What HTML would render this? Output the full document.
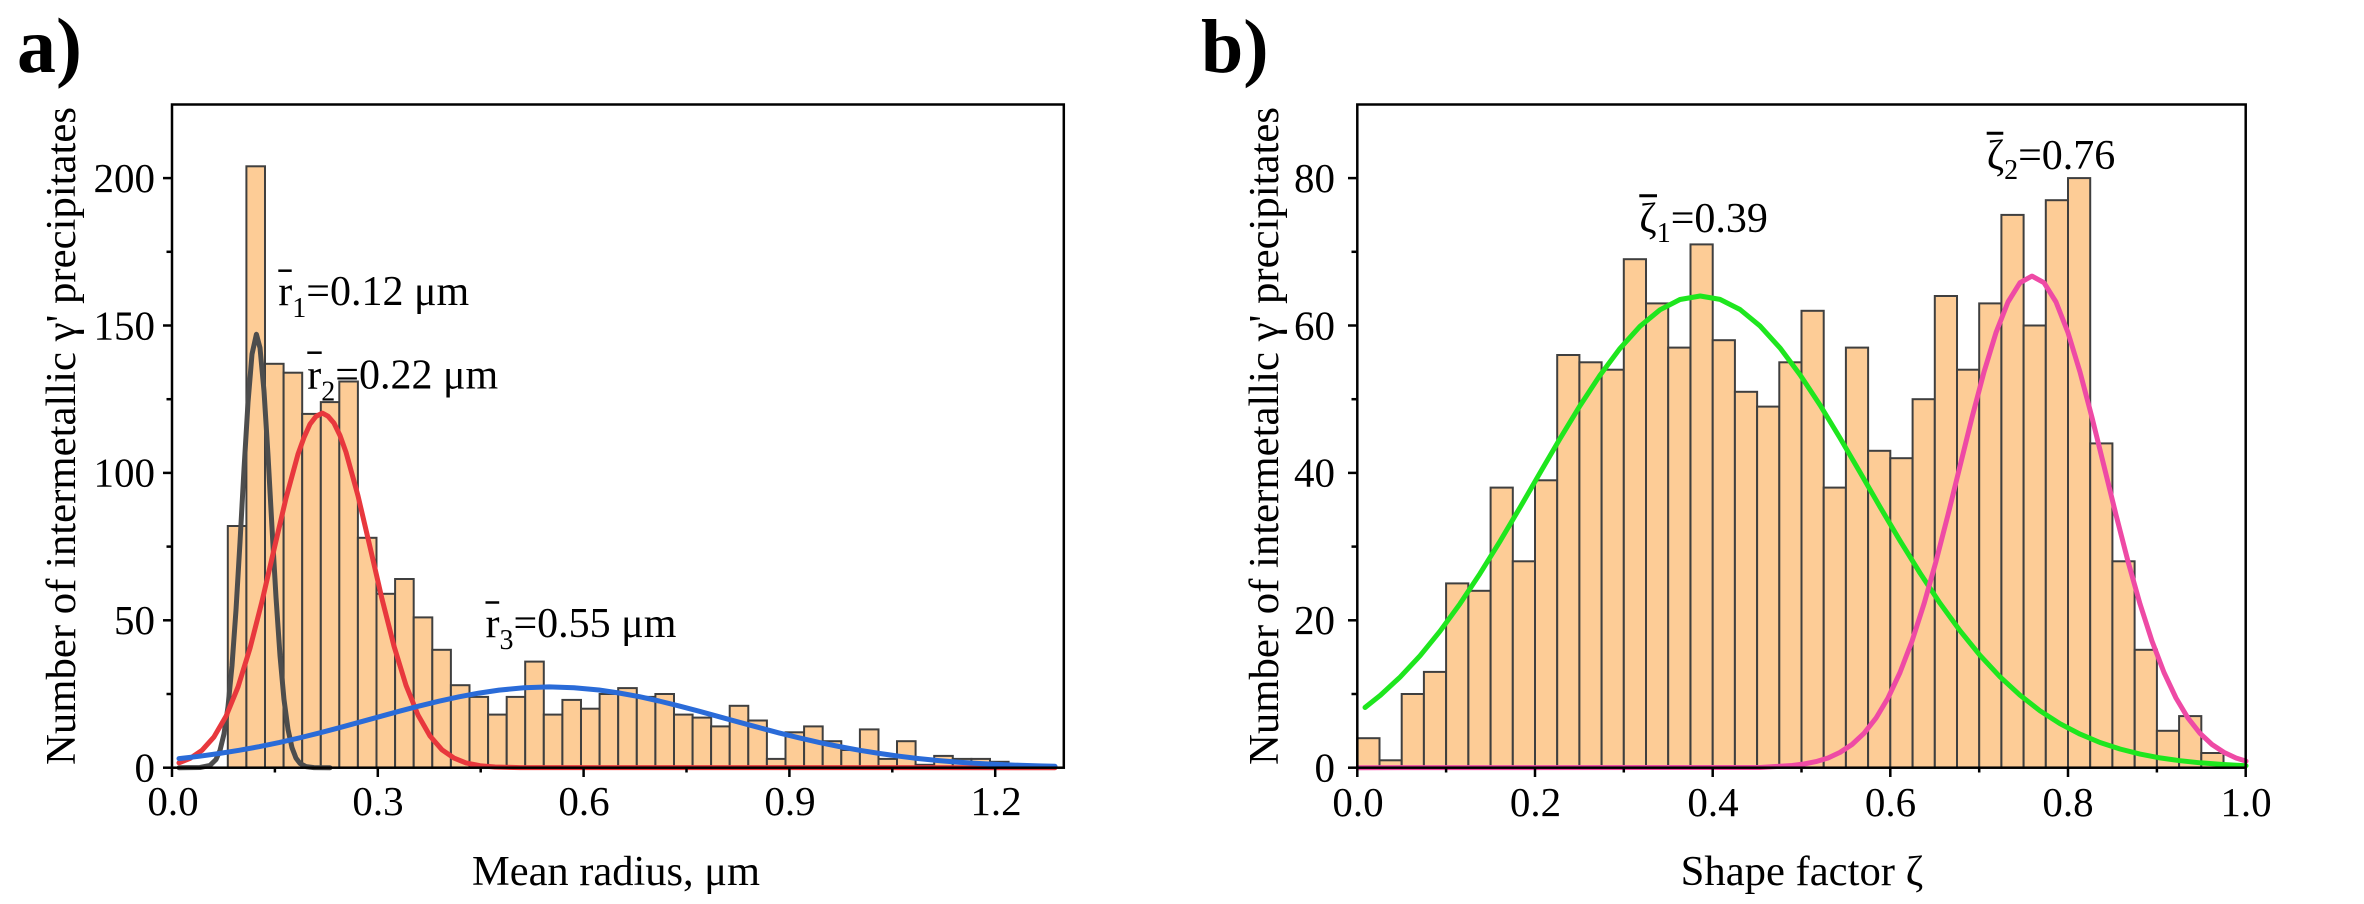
<!DOCTYPE html>
<html>
<head>
<meta charset="utf-8">
<style>
  html, body { margin: 0; padding: 0; background: #ffffff; }
  svg { display: block; }
  text { font-family: "Liberation Serif", "DejaVu Serif", serif; fill: #000; }
</style>
</head>
<body>
<svg width="2364" height="904" viewBox="0 0 2364 904" xmlns="http://www.w3.org/2000/svg">
  <rect x="0" y="0" width="2364" height="904" fill="#ffffff"/>

  <text x="17" y="72" font-size="78" font-weight="bold">a)</text>
  <text x="1201" y="72" font-size="76" font-weight="bold">b)</text>

  <!-- LEFT PANEL BARS -->
  <g fill="#FDCC96" stroke="#3f3f3f" stroke-width="2">
    <rect x="227.8" y="526.0" width="18.59" height="241.7"/>
    <rect x="246.4" y="166.3" width="18.59" height="601.4"/>
    <rect x="265.0" y="363.8" width="18.59" height="403.9"/>
    <rect x="283.6" y="372.7" width="18.59" height="395.0"/>
    <rect x="302.2" y="413.9" width="18.59" height="353.8"/>
    <rect x="320.8" y="402.1" width="18.59" height="365.6"/>
    <rect x="339.3" y="381.5" width="18.59" height="386.2"/>
    <rect x="357.9" y="537.8" width="18.59" height="229.9"/>
    <rect x="376.5" y="593.8" width="18.59" height="173.9"/>
    <rect x="395.1" y="579.0" width="18.59" height="188.7"/>
    <rect x="413.7" y="617.4" width="18.59" height="150.3"/>
    <rect x="432.3" y="649.8" width="18.59" height="117.9"/>
    <rect x="450.9" y="685.2" width="18.59" height="82.5"/>
    <rect x="469.5" y="696.9" width="18.59" height="70.8"/>
    <rect x="488.1" y="714.6" width="18.59" height="53.1"/>
    <rect x="506.7" y="696.9" width="18.59" height="70.8"/>
    <rect x="525.2" y="661.6" width="18.59" height="106.1"/>
    <rect x="543.8" y="714.6" width="18.59" height="53.1"/>
    <rect x="562.4" y="699.9" width="18.59" height="67.8"/>
    <rect x="581.0" y="708.7" width="18.59" height="59.0"/>
    <rect x="599.6" y="694.0" width="18.59" height="73.7"/>
    <rect x="618.2" y="688.1" width="18.59" height="79.6"/>
    <rect x="636.8" y="696.9" width="18.59" height="70.8"/>
    <rect x="655.4" y="694.0" width="18.59" height="73.7"/>
    <rect x="674.0" y="714.6" width="18.59" height="53.1"/>
    <rect x="692.6" y="717.6" width="18.59" height="50.1"/>
    <rect x="711.1" y="726.4" width="18.59" height="41.3"/>
    <rect x="729.7" y="705.8" width="18.59" height="61.9"/>
    <rect x="748.3" y="720.5" width="18.59" height="47.2"/>
    <rect x="766.9" y="758.9" width="18.59" height="8.8"/>
    <rect x="785.5" y="732.3" width="18.59" height="35.4"/>
    <rect x="804.1" y="726.4" width="18.59" height="41.3"/>
    <rect x="822.7" y="741.2" width="18.59" height="26.5"/>
    <rect x="841.3" y="750.0" width="18.59" height="17.7"/>
    <rect x="859.9" y="729.4" width="18.59" height="38.3"/>
    <rect x="878.5" y="758.9" width="18.59" height="8.8"/>
    <rect x="897.0" y="741.2" width="18.59" height="26.5"/>
    <rect x="915.6" y="764.8" width="18.59" height="2.9"/>
    <rect x="934.2" y="755.9" width="18.59" height="11.8"/>
    <rect x="952.8" y="758.9" width="18.59" height="8.8"/>
    <rect x="971.4" y="758.9" width="18.59" height="8.8"/>
    <rect x="990.0" y="761.8" width="18.59" height="5.9"/>
    <rect x="1008.6" y="764.8" width="18.59" height="2.9"/>
  </g>

  <!-- LEFT CURVES -->
  <g fill="none" stroke-width="5" stroke-linejoin="round" stroke-linecap="round">
    <polyline stroke="#4d4d4d" points="179,767.7 200,767.5 210,765.4 216,759.5 220,750.4 224,733.9 228,706.6 232,665.6 236,610.0 240,542.2 244,469.3 248,402.6 252,354.2 256.4,334.3 260,347.8 264,391.0 268,455.1 272,527.7 276,597.2 280,655.6 284,699.6 288,729.3 292,747.7 296,758.1 300,763.4 306,766.6 314,767.6 330,767.7"/>
    <polyline stroke="#E8383D" points="179,762.8 190,758.4 202,750.3 214,736.9 226,716.3 238,687.0 250,648.3 262,601.4 274,549.5 286,498.2 298,454.1 304,437.5 310,424.1 316,416.4 322.3,413.1 328,416.2 334,423.1 340,435.5 346,452.2 358,495.8 370,546.9 382,598.9 394,646.1 406,685.3 418,715.0 430,736.0 442,749.8 454,758.1 466,762.9 480,765.7 495,767.0 520,767.6 1055,767.7"/>
    <polyline stroke="#2A6BD8" points="179,758.6 199,756.3 219,753.5 239,750.3 259,746.7 279,742.6 299,738.0 319,733.1 339,727.8 359,722.3 379,716.8 399,711.3 419,706.1 439,701.2 459,696.8 479,693.1 499,690.1 524,687.8 549.3,686.9 574,687.8 599,690.0 619,693.0 639,696.6 659,701.0 679,705.9 699,711.2 719,716.7 739,722.2 759,727.6 779,732.9 799,737.8 819,742.4 839,746.5 859,750.2 879,753.4 899,756.2 919,758.6 939,760.6 959,762.2 979,763.5 999,764.5 1019,765.3 1039,765.9 1055,766.3"/>
  </g>

  <!-- LEFT AXES -->
  <rect x="172" y="104.5" width="891.8" height="663.2" fill="none" stroke="#000" stroke-width="2.5"/>
  <g stroke="#000" stroke-width="2.5">
    <line x1="172" y1="767.7" x2="172" y2="777"/>
    <line x1="377.8" y1="767.7" x2="377.8" y2="777"/>
    <line x1="583.6" y1="767.7" x2="583.6" y2="777"/>
    <line x1="789.4" y1="767.7" x2="789.4" y2="777"/>
    <line x1="995.2" y1="767.7" x2="995.2" y2="777"/>
    <line x1="274.9" y1="767.7" x2="274.9" y2="772.5"/>
    <line x1="480.7" y1="767.7" x2="480.7" y2="772.5"/>
    <line x1="686.5" y1="767.7" x2="686.5" y2="772.5"/>
    <line x1="892.3" y1="767.7" x2="892.3" y2="772.5"/>
    <line x1="163" y1="767.7" x2="172" y2="767.7"/>
    <line x1="163" y1="620.3" x2="172" y2="620.3"/>
    <line x1="163" y1="472.9" x2="172" y2="472.9"/>
    <line x1="163" y1="325.5" x2="172" y2="325.5"/>
    <line x1="163" y1="178.1" x2="172" y2="178.1"/>
    <line x1="166.5" y1="694.0" x2="172" y2="694.0"/>
    <line x1="166.5" y1="546.6" x2="172" y2="546.6"/>
    <line x1="166.5" y1="399.2" x2="172" y2="399.2"/>
    <line x1="166.5" y1="251.8" x2="172" y2="251.8"/>
  </g>
  <g font-size="41" text-anchor="end">
    <text x="155" y="781.5">0</text>
    <text x="155" y="634.1">50</text>
    <text x="155" y="486.7">100</text>
    <text x="155" y="339.3">150</text>
    <text x="155" y="191.9">200</text>
  </g>
  <g font-size="41" text-anchor="middle">
    <text x="173" y="815">0.0</text>
    <text x="378" y="815">0.3</text>
    <text x="584" y="815">0.6</text>
    <text x="790" y="815">0.9</text>
    <text x="996" y="815">1.2</text>
  </g>
  <text x="472" y="885" font-size="42" textLength="288" lengthAdjust="spacingAndGlyphs">Mean radius, μm</text>
  <text transform="translate(75,436) rotate(-90)" text-anchor="middle" font-size="42" textLength="658" lengthAdjust="spacingAndGlyphs">Number of intermetallic γ' precipitates</text>

  <!-- LEFT ANNOTATIONS -->
  <g stroke="#000" stroke-width="2.5">
    <line x1="278.3" y1="270.7" x2="291.7" y2="270.7"/>
    <line x1="307.3" y1="352.7" x2="321.7" y2="352.7"/>
    <line x1="485.5" y1="602.5" x2="499.2" y2="602.5"/>
  </g>
  <text x="278.3" y="305" font-size="42">r<tspan font-size="28" dy="12">1</tspan><tspan dy="-12">=0.12 μm</tspan></text>
  <text x="307.3" y="388.3" font-size="42">r<tspan font-size="28" dy="12">2</tspan><tspan dy="-12">=0.22 μm</tspan></text>
  <text x="485.5" y="636.8" font-size="42">r<tspan font-size="28" dy="12">3</tspan><tspan dy="-12">=0.55 μm</tspan></text>

  <!-- RIGHT PANEL BARS -->
  <g fill="#FDCC96" stroke="#3f3f3f" stroke-width="2">
    <rect x="1357.3" y="738.2" width="22.21" height="29.5"/>
    <rect x="1379.5" y="760.3" width="22.21" height="7.4"/>
    <rect x="1401.7" y="694.0" width="22.21" height="73.7"/>
    <rect x="1423.9" y="671.9" width="22.21" height="95.8"/>
    <rect x="1446.1" y="583.4" width="22.21" height="184.3"/>
    <rect x="1468.4" y="590.8" width="22.21" height="176.9"/>
    <rect x="1490.6" y="487.6" width="22.21" height="280.1"/>
    <rect x="1512.8" y="561.3" width="22.21" height="206.4"/>
    <rect x="1535.0" y="480.3" width="22.21" height="287.4"/>
    <rect x="1557.2" y="355.0" width="22.21" height="412.7"/>
    <rect x="1579.4" y="362.3" width="22.21" height="405.4"/>
    <rect x="1601.6" y="369.7" width="22.21" height="398.0"/>
    <rect x="1623.8" y="259.2" width="22.21" height="508.5"/>
    <rect x="1646.0" y="303.4" width="22.21" height="464.3"/>
    <rect x="1668.2" y="347.6" width="22.21" height="420.1"/>
    <rect x="1690.5" y="244.4" width="22.21" height="523.3"/>
    <rect x="1712.7" y="340.2" width="22.21" height="427.5"/>
    <rect x="1734.9" y="391.8" width="22.21" height="375.9"/>
    <rect x="1757.1" y="406.6" width="22.21" height="361.1"/>
    <rect x="1779.3" y="362.3" width="22.21" height="405.4"/>
    <rect x="1801.5" y="310.8" width="22.21" height="456.9"/>
    <rect x="1823.7" y="487.6" width="22.21" height="280.1"/>
    <rect x="1845.9" y="347.6" width="22.21" height="420.1"/>
    <rect x="1868.1" y="450.8" width="22.21" height="316.9"/>
    <rect x="1890.3" y="458.2" width="22.21" height="309.5"/>
    <rect x="1912.6" y="399.2" width="22.21" height="368.5"/>
    <rect x="1934.8" y="296.0" width="22.21" height="471.7"/>
    <rect x="1957.0" y="369.7" width="22.21" height="398.0"/>
    <rect x="1979.2" y="303.4" width="22.21" height="464.3"/>
    <rect x="2001.4" y="214.9" width="22.21" height="552.8"/>
    <rect x="2023.6" y="325.5" width="22.21" height="442.2"/>
    <rect x="2045.8" y="200.2" width="22.21" height="567.5"/>
    <rect x="2068.0" y="178.1" width="22.21" height="589.6"/>
    <rect x="2090.2" y="443.4" width="22.21" height="324.3"/>
    <rect x="2112.4" y="561.3" width="22.21" height="206.4"/>
    <rect x="2134.7" y="649.8" width="22.21" height="117.9"/>
    <rect x="2156.9" y="730.8" width="22.21" height="36.9"/>
    <rect x="2179.1" y="716.1" width="22.21" height="51.6"/>
    <rect x="2201.3" y="753.0" width="22.21" height="14.7"/>
  </g>

  <!-- RIGHT CURVES -->
  <g fill="none" stroke-width="5" stroke-linejoin="round" stroke-linecap="round">
    <polyline stroke="#1EE61E" points="1365,707.5 1380,695.6 1400,677.2 1420,655.8 1440,631.2 1460,603.8 1480,573.6 1500,541.3 1520,507.5 1540,472.9 1560,438.6 1580,405.7 1600,375.2 1620,348.4 1640,326.3 1660,309.8 1680,299.5 1700.2,296.0 1720,299.4 1740,309.5 1760,325.9 1780,347.9 1800,374.7 1820,405.0 1840,438.0 1860,472.2 1880,506.9 1900,540.7 1920,573.0 1940,603.2 1960,630.7 1980,655.3 2000,676.8 2020,695.2 2040,710.8 2060,723.7 2080,734.1 2100,742.5 2120,749.0 2140,754.1 2160,757.9 2180,760.7 2200,762.8 2223,764.5 2246,765.7"/>
    <polyline stroke="#EE4AA5" points="1358,767.7 1760,767.5 1792,765.5 1804,764.0 1816,761.6 1828,758.0 1840,752.4 1852,744.5 1864,733.3 1876,718.1 1888,698.0 1900,672.5 1912,641.1 1924,603.9 1936,561.4 1948,514.8 1960,466.1 1972,417.5 1984,372.0 1996,332.6 2008,302.0 2020,282.7 2032,276.1 2044,282.7 2056,302.0 2068,332.6 2080,372.0 2092,417.5 2104,466.1 2116,514.8 2128,561.4 2140,603.9 2152,641.1 2164,672.5 2176,698.0 2188,718.1 2200,733.3 2212,744.5 2224,752.4 2236,758.0 2246,761.1"/>
  </g>

  <!-- RIGHT AXES -->
  <rect x="1357.3" y="104.5" width="888.4" height="663.2" fill="none" stroke="#000" stroke-width="2.5"/>
  <g stroke="#000" stroke-width="2.5">
    <line x1="1357.3" y1="767.7" x2="1357.3" y2="777"/>
    <line x1="1535.0" y1="767.7" x2="1535.0" y2="777"/>
    <line x1="1712.7" y1="767.7" x2="1712.7" y2="777"/>
    <line x1="1890.3" y1="767.7" x2="1890.3" y2="777"/>
    <line x1="2068.0" y1="767.7" x2="2068.0" y2="777"/>
    <line x1="2245.7" y1="767.7" x2="2245.7" y2="777"/>
    <line x1="1446.1" y1="767.7" x2="1446.1" y2="772.5"/>
    <line x1="1623.8" y1="767.7" x2="1623.8" y2="772.5"/>
    <line x1="1801.5" y1="767.7" x2="1801.5" y2="772.5"/>
    <line x1="1979.2" y1="767.7" x2="1979.2" y2="772.5"/>
    <line x1="2156.9" y1="767.7" x2="2156.9" y2="772.5"/>
    <line x1="1348" y1="767.7" x2="1357.3" y2="767.7"/>
    <line x1="1348" y1="620.3" x2="1357.3" y2="620.3"/>
    <line x1="1348" y1="472.9" x2="1357.3" y2="472.9"/>
    <line x1="1348" y1="325.5" x2="1357.3" y2="325.5"/>
    <line x1="1348" y1="178.1" x2="1357.3" y2="178.1"/>
    <line x1="1351.5" y1="694.0" x2="1357.3" y2="694.0"/>
    <line x1="1351.5" y1="546.6" x2="1357.3" y2="546.6"/>
    <line x1="1351.5" y1="399.2" x2="1357.3" y2="399.2"/>
    <line x1="1351.5" y1="251.8" x2="1357.3" y2="251.8"/>
  </g>
  <g font-size="41" text-anchor="end">
    <text x="1335" y="781.5">0</text>
    <text x="1335" y="634.1">20</text>
    <text x="1335" y="486.7">40</text>
    <text x="1335" y="339.3">60</text>
    <text x="1335" y="191.9">80</text>
  </g>
  <g font-size="41" text-anchor="middle">
    <text x="1358" y="816">0.0</text>
    <text x="1535.5" y="816">0.2</text>
    <text x="1713" y="816">0.4</text>
    <text x="1890.5" y="816">0.6</text>
    <text x="2068" y="816">0.8</text>
    <text x="2246" y="816">1.0</text>
  </g>
  <text x="1680.7" y="885" font-size="42" textLength="242.6" lengthAdjust="spacingAndGlyphs">Shape factor ζ</text>
  <text transform="translate(1278,436) rotate(-90)" text-anchor="middle" font-size="42" textLength="658" lengthAdjust="spacingAndGlyphs">Number of intermetallic γ' precipitates</text>

  <!-- RIGHT ANNOTATIONS -->
  <g stroke="#000" stroke-width="3">
    <line x1="1639.3" y1="195.8" x2="1657" y2="195.8"/>
    <line x1="1986.7" y1="133.3" x2="2003.3" y2="133.3"/>
  </g>
  <text x="1639.3" y="232" font-size="42">ζ<tspan font-size="28" dy="10">1</tspan><tspan dy="-10">=0.39</tspan></text>
  <text x="1986.7" y="169" font-size="42">ζ<tspan font-size="28" dy="10">2</tspan><tspan dy="-10">=0.76</tspan></text>
</svg>
</body>
</html>
